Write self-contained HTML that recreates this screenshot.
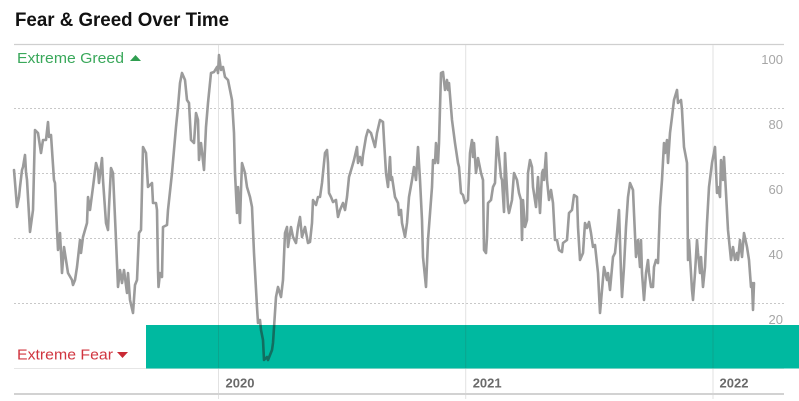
<!DOCTYPE html>
<html>
<head>
<meta charset="utf-8">
<style>
html,body{margin:0;padding:0;background:#fff;}
svg{display:block;}
</style>
</head>
<body>
<svg width="799" height="401" viewBox="0 0 799 401" xmlns="http://www.w3.org/2000/svg">
<defs>
<clipPath id="tc"><rect x="146" y="325" width="653" height="43.5"/></clipPath>
</defs>
<text x="15" y="26" font-family="Liberation Sans, Arial, sans-serif" font-weight="bold" font-size="19.5" fill="#111" textLength="214" lengthAdjust="spacingAndGlyphs">Fear &amp; Greed Over Time</text>

<!-- top rule -->
<line x1="14" y1="44.5" x2="784" y2="44.5" stroke="#cfcfcf" stroke-width="1.2"/>
<!-- gridlines -->
<g stroke="#c8c8c8" stroke-width="1" stroke-dasharray="2,2">
<line x1="14" y1="108.5" x2="784" y2="108.5"/>
<line x1="14" y1="173.5" x2="784" y2="173.5"/>
<line x1="14" y1="238.5" x2="784" y2="238.5"/>
<line x1="14" y1="303.5" x2="784" y2="303.5"/>
</g>
<!-- vertical year lines -->
<g stroke="#e2e2e2" stroke-width="1">
<line x1="218.5" y1="45" x2="218.5" y2="399"/>
<line x1="465.7" y1="45" x2="465.7" y2="399"/>
<line x1="713" y1="45" x2="713" y2="399"/>
</g>
<!-- axis lines -->
<line x1="14" y1="368.5" x2="784" y2="368.5" stroke="#e6e6e6" stroke-width="1"/>
<line x1="14" y1="394" x2="784" y2="394" stroke="#d2d2d2" stroke-width="2"/>

<!-- y labels -->
<g font-family="Liberation Sans, Arial, sans-serif" font-size="13" fill="#a6a6a6" text-anchor="end">
<text x="783" y="64">100</text>
<text x="783" y="129">80</text>
<text x="783" y="194">60</text>
<text x="783" y="259">40</text>
<text x="783" y="324">20</text>
</g>

<!-- extreme labels -->
<text x="17" y="63" font-family="Liberation Sans, Arial, sans-serif" font-size="15" fill="#3aa85b" textLength="107" lengthAdjust="spacingAndGlyphs">Extreme Greed</text>
<polygon points="130,61 141,61 135.5,55" fill="#2f9e50"/>
<text x="17" y="359.5" font-family="Liberation Sans, Arial, sans-serif" font-size="15" fill="#d0353f" textLength="96" lengthAdjust="spacingAndGlyphs">Extreme Fear</text>
<polygon points="117,352 128,352 122.5,358" fill="#c92a35"/>

<!-- series -->
<polyline id="ser" fill="none" stroke="#9b9b9b" stroke-width="2.6" stroke-linejoin="round" stroke-linecap="round" points="
14,170 17,207 19,197 20,187 22,170 23,167 25,155 26,172 27,180 30,232 33,210 35,130 38,133 41,153 43,140 46,140 48,122 49,137 51,135 54,180 55,183 57,230 58,250 60,233 62,273 64,247 66,260 68,273 72,280 73,285 75,280 77,267 80,240 81,253 83,237 87,223 88,197 90,210 93,187 96,163 98,170 99,183 102,158 103,180 106,223 108,230 109,207 111,168 113,173 116,240 118,287 120,270 122,283 124,270 127,293 128,273 130,300 133,313 135,285 137,280 139,233 141,230 143,147 146,153 148,187 152,183 153,203 156,203 157,210 158,270 158.5,287 160,273 162,277 163,227 167,225 168,210 172,173 176,127 178,107 180,83 182,73 185,80 187,100 189,103 191,140 194,143 196,113 198,120 199,160 201,143 204,170 206,127 208,103 211,73 214,72 217,67 218,73 219,55 221,70 223,67 225,77 228,80 230,90 232,100 234,133 235,173 237,213 238,187 240,223 241,190 242,163 245,173 247,187 250,197 252,207 254,253 257,307 258,323 260,320 261,330 263,340 264,360 267,357 268,360 272,350 273,343 276,297 278,287 281,297 283,280 285,233 287,227 288,247 291,227 293,237 296,243 298,227 300,217 302,237 305,227 308,243 310,242 312,223 313,200 316,205 318,197 320,197 322,183 323,173 325,153 327,150 328,163 329,193 331,197 333,202 336,200 338,217 340,210 343,203 345,210 347,197 349,177 352,167 354,160 357,147 358,163 360,157 362,165 363,155 366,137 368,130 371,133 375,147 377,133 380,120 383,122 384,140 386,173 388,187 390,157 391,180 392,177 395,197 398,203 399,215 401,210 402,223 405,237 407,223 409,197 412,180 414,167 416,180 418,147 420,180 422,220 423,257 426,287 428,240 432,187 433,160 435,163 436,143 438,163 439,143 441,73 443,72 445,90 447,80 448,90 449,83 452,120 455,143 458,163 459,167 461,193 463,195 465,203 468,200 470,153 472,140 473,157 474,143 476,173 478,158 481,173 483,180 484,250 486,253 487,237 488,203 491,200 493,187 495,183 497,137 499,157 501,177 502,180 504,212 505,153 508,207 509,213 512,200 514,173 517,180 519,193 521,200 522,240 523,200 525,227 527,220 528,173 530,160 532,167 533,187 536,207 538,177 540,213 542,173 543,170 544,180 546,153 547,180 549,200 551,190 553,203 555,240 557,240 559,250 562,252 563,243 567,240 569,213 572,210 574,195 577,197 578,227 580,260 583,253 585,223 587,228 589,222 591,233 593,247 595,245 598,273 600,313 602,290 604,267 607,280 608,273 610,290 613,257 615,253 617,233 619,210 621,273 622,297 624,267 626,227 628,197 630,183 633,190 634,213 636,257 638,240 640,267 641,240 642,273 644,300 646,273 648,260 649,273 651,287 653,287 654,267 656,260 658,263 660,207 662,180 664,143 665,153 667,140 668,163 670,133 672,117 674,100 677,90 678,103 681,100 682,110 684,147 687,163 688,260 689,240 692,290 693,300 695,273 697,240 698,253 700,273 701,257 703,287 705,267 707,223 709,187 712,163 715,147 717,193 718,187 720,197 721,160 723,180 724,157 726,193 728,230 729,240 731,260 733,247 735,260 737,253 738,260 740,240 742,257 744,233 747,247 749,260 751,287 752,283 753,310 754,283"/>

<!-- teal overlay -->
<rect x="146" y="325" width="653" height="43.5" fill="#00b9a0"/>
<g clip-path="url(#tc)">
<line x1="218.5" y1="325" x2="218.5" y2="369" stroke="#0aa58e" stroke-width="1"/>
<line x1="465.7" y1="325" x2="465.7" y2="369" stroke="#0aa58e" stroke-width="1"/>
<line x1="713" y1="325" x2="713" y2="369" stroke="#0aa58e" stroke-width="1"/>
<polyline fill="none" stroke="#126e60" stroke-width="2.6" stroke-linejoin="round" points="254,253 257,307 258,323 260,320 261,330 263,340 264,360 267,357 268,360 272,350 273,343 276,297 278,287"/>
</g>

<!-- year labels -->
<g font-family="Liberation Sans, Arial, sans-serif" font-size="13" font-weight="bold" fill="#6a6a6a">
<text x="225.5" y="387.5">2020</text>
<text x="472.7" y="387.5">2021</text>
<text x="719.5" y="387.5">2022</text>
</g>
</svg>
</body>
</html>
